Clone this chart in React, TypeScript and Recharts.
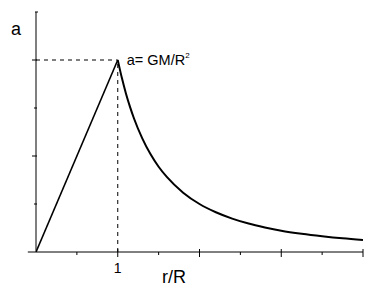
import { ComposedChart, Line, XAxis, YAxis, ReferenceLine, ReferenceDot } from "recharts"

// r/R along the axis, a in units of GM/R^2
const insideR = [0, 1]
const insideA = [0, 1]
const outsideR = [1, 1.05, 1.1, 1.15, 1.2, 1.3, 1.4, 1.5, 1.6, 1.8, 2.0, 2.2, 2.4, 2.6, 2.8, 3.0, 3.25, 3.5, 3.75, 4.0]
const outsideA = [1, 0.907, 0.826, 0.756, 0.694, 0.592, 0.51, 0.444, 0.391, 0.309, 0.25, 0.207, 0.174, 0.148, 0.128, 0.111, 0.095, 0.082, 0.071, 0.0625]

const xTicks = [0.5, 1, 1.5, 2, 2.5, 3, 3.5, 4]
const yTicks = [0.25, 0.5, 0.75, 1, 1.25]
const xTickLabels: Record<number, string> = { 1: "1" }

const inside = insideR.map((r, i) => ({ r, a: insideA[i] }))
const outside = outsideR.map((r, i) => ({ r, a: outsideA[i] }))

const FONT = "'Liberation Sans', Arial, sans-serif"

const XTick = (props: any) => {
  const { x, y, payload } = props
  const v = payload.value
  const major = Number.isInteger(v)
  return (
    <g>
      <line x1={x} x2={x} y1={major ? y - 3 : y} y2={major ? y + 5 : y + 3} stroke="#000" />
      {xTickLabels[v] && (
        <text x={x} y={y + 21} textAnchor="middle" fontSize={14} fontFamily={FONT} fill="#000">
          {xTickLabels[v]}
        </text>
      )}
    </g>
  )
}

const YTick = (props: any) => {
  const { x, y, payload } = props
  const v = payload.value
  const major = v === 0.5 || v === 1
  if (v === 1.25) return <line x1={x - 1} x2={x + 2} y1={y} y2={y} stroke="#000" />
  return <line x1={major ? x - 4 : x - 2} x2={x + 1} y1={y} y2={y} stroke="#000" />
}

const YLabel = (props: any) => {
  const { viewBox } = props
  return (
    <text x={viewBox.x + 11} y={viewBox.y + 23} fontSize={18} fontFamily={FONT} fill="#000">
      a
    </text>
  )
}

const XLabel = (props: any) => {
  const { viewBox } = props
  return (
    <text x={viewBox.x + 126} y={viewBox.y + 31} fontSize={18} fontFamily={FONT} fill="#000">
      r/R
    </text>
  )
}

const PeakLabel = (props: any) => {
  const { viewBox } = props
  const cx = viewBox.x + viewBox.width / 2
  const cy = viewBox.y + viewBox.height / 2
  return (
    <text x={cx + 9} y={cy + 5} fontSize={14.5} fontFamily={FONT} fill="#000">
      a= GM/R
      <tspan dy={-7} fontSize={8}>2</tspan>
    </text>
  )
}

export default function App() {
  return (
    <div style={{ position: "absolute", left: 0, top: 0, background: "#fff" }}>
      <ComposedChart width={373} height={300} margin={{ top: 12, right: 10, bottom: 0, left: 0 }}>
        <XAxis
          type="number"
          dataKey="r"
          domain={[0, 4]}
          ticks={xTicks}
          interval={0}
          allowDataOverflow
          height={48}
          tickSize={0}
          tickMargin={0}
          tickLine={false}
          tick={<XTick />}
          axisLine={{ stroke: "#000" }}
          label={{ content: <XLabel /> }}
        />
        <YAxis
          type="number"
          dataKey="a"
          domain={[0, 1.25]}
          ticks={yTicks}
          interval={0}
          allowDataOverflow
          width={36}
          tickSize={0}
          tickMargin={0}
          tickLine={false}
          tick={<YTick />}
          axisLine={{ stroke: "#000" }}
          label={{ content: <YLabel /> }}
        />
        <ReferenceLine
          segment={[{ x: 0, y: 1 }, { x: 1, y: 1 }]}
          stroke="#000"
          strokeDasharray="4 4"
        />
        <ReferenceLine
          segment={[{ x: 1, y: 0 }, { x: 1, y: 1 }]}
          stroke="#000"
          strokeDasharray="4 4"
        />
        <ReferenceLine
          segment={[{ x: -0.1, y: 0 }, { x: 0, y: 0 }]}
          stroke="#000"
          ifOverflow="visible"
        />
        <Line
          data={inside}
          dataKey="a"
          type="linear"
          stroke="#000"
          strokeWidth={1.6}
          dot={false}
          isAnimationActive={false}
        />
        <Line
          data={outside}
          dataKey="a"
          type="monotone"
          stroke="#000"
          strokeWidth={2}
          dot={false}
          isAnimationActive={false}
        />
        <ReferenceDot x={1} y={1} r={1} fill="none" stroke="none" label={{ content: <PeakLabel /> }} />
      </ComposedChart>
    </div>
  )
}
